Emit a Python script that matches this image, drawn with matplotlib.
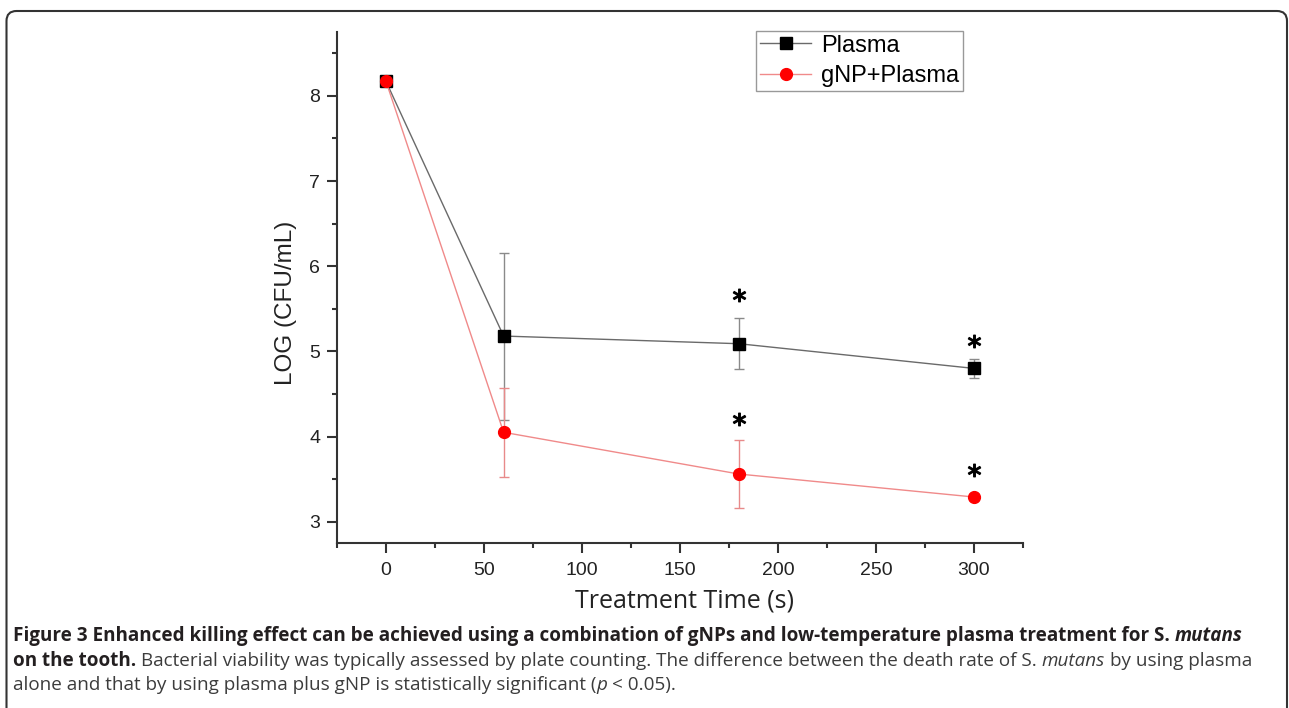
import numpy as np
import matplotlib.pyplot as plt
import matplotlib.patches as mpatches
from matplotlib.ticker import MultipleLocator
from matplotlib.transforms import IdentityTransform

# data
time_s = [0, 60, 180, 300]
plasma_log = [8.17, 5.18, 5.09, 4.80]
plasma_err = [0.0, 0.98, 0.30, 0.11]
gnp_log = [8.17, 4.05, 3.56, 3.29]
gnp_err = [0.0, 0.52, 0.40, 0.03]

# significance asterisks (x, y in data units)
star_x = [180, 300, 180, 300]
star_y = [5.66, 5.12, 4.21, 3.61]

series_labels = ["Plasma", "gNP+Plasma"]
x_ticks = [0, 50, 100, 150, 200, 250, 300]
y_ticks = [3, 4, 5, 6, 7, 8]

caption_lines = [
    [("Figure 3 Enhanced killing effect can be achieved using a combination of gNPs and "
      "low-temperature plasma treatment for S.", "bold", "normal"),
     (" mutans", "bold", "italic")],
    [("on the tooth.", "bold", "normal"),
     (" Bacterial viability was typically assessed by plate counting. The difference "
      "between the death rate of S.", "normal", "normal"),
     (" mutans", "normal", "italic"),
     (" by using plasma", "normal", "normal")],
    [("alone and that by using plasma plus gNP is statistically significant (", "normal", "normal"),
     ("p", "normal", "italic"),
     (" < 0.05).", "normal", "normal")],
]

W, H = 1289, 708
fig = plt.figure(figsize=(W / 100, H / 100), dpi=100)
ax = fig.add_axes([337 / W, 1 - 543 / H, 686 / W, 511 / H])

# lines + markers
l1, = ax.plot(time_s, plasma_log, color='#6a6a6a', lw=1.0, marker='s', ms=8,
              mfc='black', mec='black', zorder=3)
l2, = ax.plot(time_s, gnp_log, color='#f08a8a', lw=1.0, marker='o', ms=8.5,
              mfc='#ff0000', mec='#ff0000', zorder=4)
ax.errorbar(time_s, plasma_log, yerr=plasma_err, fmt='none', ecolor='#8a8a8a',
            elinewidth=1, capsize=3.5, capthick=1, zorder=2)
ax.errorbar(time_s, gnp_log, yerr=gnp_err, fmt='none', ecolor='#e88a8a',
            elinewidth=1, capsize=3.5, capthick=1, zorder=2)
ax.plot(star_x, star_y, ls='none', marker=r'$*$', ms=9, color='black', zorder=5)

ax.set_xlim(-25, 325)
ax.set_ylim(2.75, 8.75)
ax.set_xticks(x_ticks)
ax.set_yticks(y_ticks)
ax.xaxis.set_minor_locator(MultipleLocator(25))
ax.yaxis.set_minor_locator(MultipleLocator(0.5))

for s in ['top', 'right']:
    ax.spines[s].set_visible(False)
for s in ['left', 'bottom']:
    ax.spines[s].set_linewidth(1.5)
    ax.spines[s].set_color('#333333')
ax.tick_params(which='major', direction='out', length=7, width=1.5, color='#333333',
               labelsize=14, pad=5, labelcolor='#222222')
ax.tick_params(axis='x', which='major', pad=7)
ax.tick_params(which='minor', direction='out', length=3.5, width=1.5, color='#333333')
for lab in ax.get_xticklabels() + ax.get_yticklabels():
    lab.set_family('Liberation Sans')

ax.set_ylabel('LOG (CFU/mL)', fontsize=17.5, family='Liberation Sans', color='#222222')
ax.yaxis.set_label_coords(-0.058, 0.47)
ax.set_xlabel('Treatment Time (s)', fontsize=18, family='Open Sans', color='#222222')
ax.xaxis.set_label_coords(0.506, -0.090)

leg = ax.legend([l1, l2], series_labels, loc='upper left',
                bbox_to_anchor=(756 / W, 1 - 31 / H), bbox_transform=fig.transFigure,
                borderaxespad=0, borderpad=0.15, handlelength=2.2, handletextpad=0.4,
                labelspacing=0.36, fancybox=False, framealpha=1,
                prop={'family': 'Liberation Sans', 'size': 17})
leg.get_frame().set_edgecolor('#999999')
leg.get_frame().set_linewidth(1.0)

# rounded frame around the whole figure
frame = mpatches.FancyBboxPatch((6.5, -30), 1280.5, H - 11 + 30,
                                boxstyle='round,pad=0,rounding_size=10',
                                transform=IdentityTransform(), fill=False,
                                lw=1.5, ec='#333333')
fig.add_artist(frame)

# caption, mixed styles pieced together
cap_size = 13.6
space_pt = cap_size * 0.26
baselines = [641, 666, 690]
for line, base in zip(caption_lines, baselines):
    yf = 1 - base / H
    prev = None
    for txt, wt, st in line:
        gap = 0
        if txt.startswith(' '):
            gap = space_pt
            txt = txt[1:]
        col = '#231f20' if wt == 'bold' else '#3c3c3c'
        if prev is None:
            prev = fig.text(13 / W, yf, txt, family='Open Sans', size=cap_size,
                            weight=wt, style=st, color=col, va='baseline')
        else:
            prev = ax.annotate(txt, xy=(1, yf), xycoords=(prev, 'figure fraction'),
                               xytext=(gap, 0), textcoords='offset points',
                               family='Open Sans', size=cap_size, weight=wt, style=st,
                               color=col, va='baseline', ha='left')

fig.savefig('out.png', dpi=100)
